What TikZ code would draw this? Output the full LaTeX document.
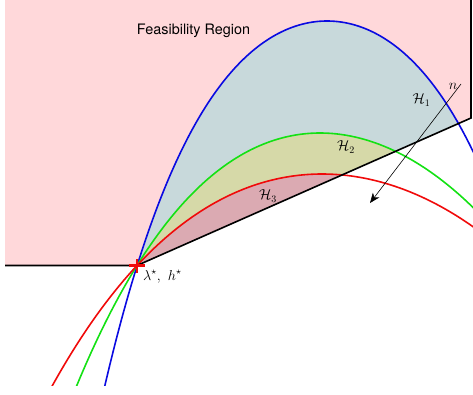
\documentclass[tikz,border=0pt]{standalone}
\usepackage{fontspec}
\setsansfont{TeX Gyre Heros}
\usetikzlibrary{arrows.meta}
\definecolor{feas}{RGB}{255,216,218}
\definecolor{hone}{RGB}{200,217,219}
\definecolor{htwo}{RGB}{214,217,168}
\definecolor{hthree}{RGB}{219,170,178}
\definecolor{cblue}{RGB}{10,10,225}
\definecolor{cgreen}{RGB}{20,225,20}
\definecolor{cred}{RGB}{240,10,10}
\begin{document}
\begin{tikzpicture}[x=1pt,y=-1pt,
  curve/.style={line width=1.6pt},
  bound/.style={line width=1.6pt,black},
  lbl/.style={font=\Large,inner sep=0pt},
  crossmark/.style={cred,line width=2.8pt},
  declare function={
    bl(\t)=21+51.49*\t*\t+4.54*\t*\t*\t*\t;
    gr(\t)=133+33.307*\t*\t-2.0885*\t*\t*\t+0.7274*\t*\t*\t*\t;
    rd(\t)=174+23.596*\t*\t-0.938*\t*\t*\t+0.41*\t*\t*\t*\t;}]
\useasboundingbox (0,0) rectangle (473,394);
\coordinate (tl) at (5,0);
\coordinate (tr) at (471,0);
\coordinate (rc) at (471,118);
\coordinate (st) at (137,265.5);
\coordinate (lf) at (5,265.5);
\fill[feas] (tl) -- (tr) -- (rc) -- (st) -- (lf) -- cycle;
\begin{scope}
  \clip (tl) -- (tr) -- (rc) -- (st) -- (lf) -- cycle;
  \fill[hone] plot[domain=95:485,samples=150] (\x,{bl((\x-327)/100)}) -- cycle;
  \fill[htwo] plot[domain=60:485,samples=150] (\x,{gr((\x-320)/100)}) -- cycle;
  \fill[hthree] plot[domain=40:485,samples=150] (\x,{rd((\x-322)/100)}) -- cycle;
\end{scope}
\begin{scope}
  \clip (0,0) rectangle (473,385);
  \draw[curve,cblue] plot[domain=95:485,samples=150] (\x,{bl((\x-327)/100)});
  \draw[curve,cgreen] plot[domain=60:485,samples=150] (\x,{gr((\x-320)/100)});
  \draw[curve,cred] plot[domain=40:485,samples=150] (\x,{rd((\x-322)/100)});
\end{scope}
\draw[bound] (lf) -- (st) -- (rc) -- (tr);
\draw[crossmark] ([xshift=-8pt]st) -- ([xshift=8pt]st);
\draw[crossmark] ([yshift=-7pt]st) -- ([yshift=7pt]st);
\coordinate (ntail) at (461,84);
\coordinate (nhead) at (370,203);
\draw[line width=0.6pt,-{Stealth[length=10pt,width=8pt,inset=3pt]}] (ntail) -- (nhead);
\node[lbl] (nlab) at (453,86) {$n$};
\node[lbl] (hlone) at (421.5,100) {$\mathcal{H}_1$};
\node[lbl] (hltwo) at (346,147) {$\mathcal{H}_2$};
\node[lbl] (hlthree) at (268,196) {$\mathcal{H}_3$};
\node[lbl,anchor=west] (star) at (143,276.5) {$\lambda^{\star},\ h^{\star}$};
\node[lbl,font=\Large\sffamily] (feaslab) at (193.5,31) {Feasibility Region};
\end{tikzpicture}
\end{document}
